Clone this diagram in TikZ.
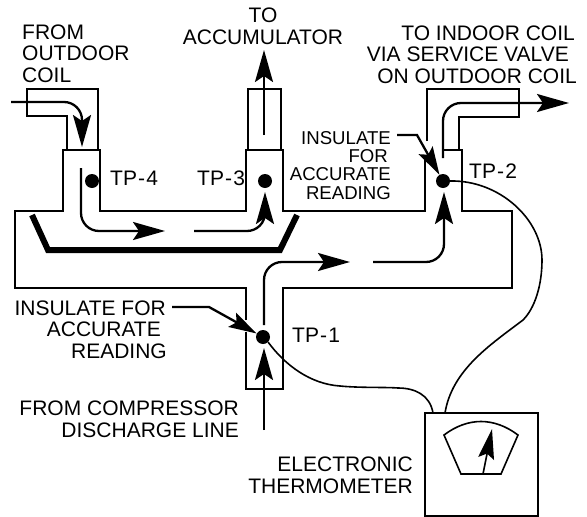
\documentclass[tikz,border=0pt]{standalone}
\usepackage{fontspec}
\setmainfont{Liberation Sans}
\usetikzlibrary{arrows.meta}
\tikzset{
  pipe/.style={line width=1.8pt,line join=miter},
  flow/.style={line width=2.3pt,rounded corners=18pt,-{Stealth[length=32pt,width=18pt,inset=6pt]}},
  leader/.style={line width=2.3pt,-{Stealth[length=28pt,width=16pt,inset=5pt]}},
  wire/.style={line width=1.6pt},
  probe/.style={circle,fill=black,inner sep=0pt,minimum size=14pt},
  lab/.style={inner sep=0pt,font=\fontsize{21}{21.4}\selectfont},
  labtight/.style={inner sep=0pt,font=\fontsize{18.6}{18.2}\selectfont},
}
\newcommand{\tpl}[1]{TP\kern1.2pt-\kern1.2pt#1}
\begin{document}
\begin{tikzpicture}[x=1pt,y=-1pt]
\useasboundingbox (0,0) rectangle (587,517);
% pipes
\draw[pipe] (67,150) -- (67,116) -- (27,116) -- (27,89) -- (98,89) -- (98,150);
\draw[pipe] (248,150) -- (248,89) -- (281,89) -- (281,150);
\draw[pipe] (427,141) -- (427,89) -- (519,89) -- (519,117) -- (459,117) -- (459,150);
\draw[pipe] (100,150) -- (63,150) -- (63,211) -- (15,211) -- (15,288) -- (246,288) -- (246,320);
\draw[pipe] (246,332) -- (246,389) -- (283,389) -- (283,288) -- (512,288) -- (512,211) -- (462,211) -- (462,150) -- (444,150);
\draw[pipe] (63,150) -- (100,150) -- (100,211) -- (246,211) -- (246,150) -- (283,150) -- (283,211) -- (425,211) -- (425,160);
\draw[line width=6pt,line join=miter] (32,215) -- (48,250) -- (280,250) -- (297,215);
% probes
\node[probe] (tp4) at (92,181) {};
\node[probe] (tp3) at (265,181) {};
\node[probe] (tp2) at (443,181) {};
\node[probe] (tp1) at (263,337) {};
% flow
\coordinate (a0) at (11,102);  \coordinate (a1) at (82,147);
\coordinate (b0) at (81,168);  \coordinate (b1) at (165,231);
\coordinate (c0) at (194,231); \coordinate (c1) at (265,192);
\coordinate (d0) at (264,135); \coordinate (d1) at (264,50);
\coordinate (e0) at (264,325); \coordinate (e1) at (350,262);
\coordinate (f0) at (373,262); \coordinate (f1) at (444,192);
\coordinate (g0) at (443,158); \coordinate (g1) at (569,103);
\coordinate (h0) at (264,430); \coordinate (h1) at (264,348);
\draw[flow] (a0) -- (a0 -| a1) -- (a1);
\draw[flow] (b0) -- (b1 -| b0) -- (b1);
\draw[flow] (c0) -- (c0 -| c1) -- (c1);
\draw[flow] (d0) -- (d1);
\draw[flow] (e0) -- (e1 -| e0) -- (e1);
\draw[flow] (f0) -- (f0 -| f1) -- (f1);
\draw[flow] (g0) -- (g1 -| g0) -- (g1);
\draw[flow] (h0) -- (h1);
% leaders
\coordinate (l1) at (397,135);
\coordinate (l2) at (172,307);
\draw[leader] (l1) -- (417,135) -- (tp2);
\draw[leader] (l2) -- (209,307) -- (tp1);
% meter
\node[draw,line width=1.8pt,minimum width=113pt,minimum height=103pt,inner sep=0pt] (meter) at (481.5,464.5) {};
\coordinate (m1) at (433,413);
\coordinate (m2) at (445,413);
\draw[wire] (tp2.east) .. controls (500,180) and (542,220) .. (542,260)
  .. controls (542,285) and (535,308) .. (523,320)
  .. controls (490,345) and (452,370) .. (m2);
\draw[wire] (tp1.south east) .. controls (285,365) and (310,384) .. (340,386)
  .. controls (360,388) and (385,387) .. (398,388)
  .. controls (415,388) and (430,395) .. (m1);
\draw[line width=1.6pt,line join=miter] (444,435) .. controls (468,417) and (494,417) .. (518,435) -- (501,474) -- (461,474) -- cycle;
\coordinate (n0) at (483,474);
\coordinate (n1) at (492,429);
\draw[line width=1.6pt,-{Stealth[length=30pt,width=16pt,inset=5pt]}] (n0) -- (n1);
% labels
\node[lab,align=left,anchor=base west] at (22,82) {FROM\\OUTDOOR\\COIL};
\node[lab,align=center,anchor=base] at (263,44) {TO\\ACCUMULATOR};
\node[lab,align=right,anchor=base east] at (577,83) {TO INDOOR COIL\kern2pt\\VIA SERVICE VALVE\kern8pt\\ON OUTDOOR COIL};
\node[labtight,align=right,anchor=base east] at (391,199) {INSULATE\\FOR\kern3pt\\ACCURATE\\READING};
\node[lab,align=right,anchor=base east] at (167,358) {INSULATE FOR\kern1pt\\ACCURATE\kern6pt\\READING};
\node[lab,align=right,anchor=base east] at (239,437) {FROM COMPRESSOR\\DISCHARGE LINE};
\node[lab,align=right,anchor=base east] at (413,493) {ELECTRONIC\\THERMOMETER};
\node[lab,anchor=base west] at (110,185) {\tpl{4}};
\node[lab,anchor=base west] at (197,185) {\tpl{3}};
\node[lab,anchor=base west] at (469,178) {\tpl{2}};
\node[lab,anchor=base west] at (292,342) {\tpl{1}};
\end{tikzpicture}
\end{document}
